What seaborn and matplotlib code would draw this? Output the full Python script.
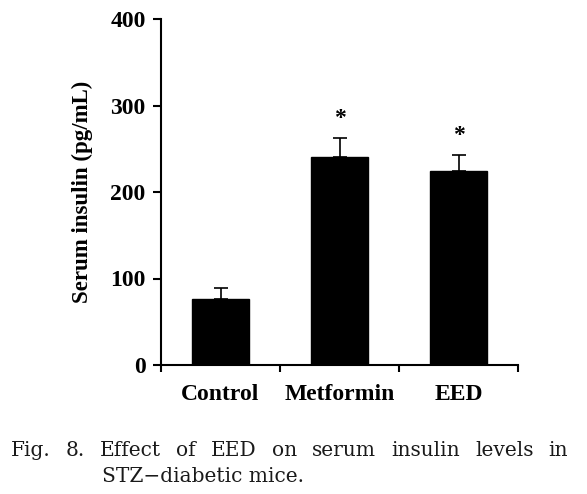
import matplotlib
matplotlib.use("Agg")
import matplotlib.pyplot as plt
import seaborn as sns
import pandas as pd

# ----------------------------------------------------------------------------
# Data
# ----------------------------------------------------------------------------
groups = ["Control", "Metformin", "EED"]
insulin_mean = [76, 240, 224]
insulin_sem = [13, 22, 19]
significant = [False, True, True]
y_ticks = [0, 100, 200, 300, 400]

caption_line1 = ["Fig.", "8.", "Effect", "of", "EED", "on", "serum",
                 "insulin", "levels", "in"]
caption_line2 = "STZ\u2212diabetic mice."

# ----------------------------------------------------------------------------
# Style
# ----------------------------------------------------------------------------
sns.set_style("ticks")
plt.rcParams["font.family"] = ["Liberation Serif", "DejaVu Serif"]
plt.rcParams.update({"text.color": "black", "axes.labelcolor": "black",
                     "xtick.color": "black", "ytick.color": "black"})

W, H = 587, 494
fig = plt.figure(figsize=(W / 100, H / 100), dpi=100)
ax = fig.add_axes([161 / W, 129 / H, 357 / W, 346 / H])

df = pd.DataFrame({"group": groups, "insulin": insulin_mean})
sns.barplot(data=df, x="group", y="insulin", order=groups, color="black",
            edgecolor="black", saturation=1, width=0.48, errorbar=None, ax=ax)

# upward-only SEM bars
ax.errorbar(range(len(groups)), insulin_mean,
            yerr=[[0] * len(groups), insulin_sem], fmt="none",
            ecolor="black", elinewidth=1.2, capsize=5, capthick=1.2)

# significance stars
for i, (m, s, sig) in enumerate(zip(insulin_mean, insulin_sem, significant)):
    if sig:
        ax.annotate("*", xy=(i, m + s), xytext=(0, 10), textcoords="offset points",
                    ha="center", va="baseline", fontsize=17, fontweight="bold")

# axes
ax.set_ylim(0, 400)
ax.set_yticks(y_ticks)
ax.set_xlim(-0.5, len(groups) - 0.5)
ax.set_xticks([-0.5, 0.5, 1.5, 2.5])
ax.set_xticklabels([])
ax.set_xticks(range(len(groups)), labels=groups, minor=True)
ax.tick_params(axis="x", which="minor", length=0, pad=14)
ax.tick_params(axis="x", which="major", length=5, width=1.5)
ax.tick_params(axis="y", length=6, width=1.5, pad=5)
for lab in ax.get_xticklabels(minor=True) + ax.get_yticklabels():
    lab.set_fontsize(17)
    lab.set_fontweight("bold")

ax.set_xlabel("")
ax.set_ylabel("Serum insulin (pg/mL)", fontsize=16.5, fontweight="bold")
ax.yaxis.set_label_coords(-0.19, 0.5)

sns.despine(ax=ax)
for side in ["left", "bottom"]:
    ax.spines[side].set_linewidth(1.5)
    ax.spines[side].set_color("black")

# ----------------------------------------------------------------------------
# Caption (justified first line, hanging indent)
# ----------------------------------------------------------------------------
cap_kw = dict(fontsize=14.5, family="DejaVu Serif", va="baseline", color="#1a1a1a")
fig.canvas.draw()
renderer = fig.canvas.get_renderer()
word_texts = [fig.text(0, 0, w, **cap_kw) for w in caption_line1]
widths = [t.get_window_extent(renderer).width for t in word_texts]
x_left, x_right = 11, 568
gap = (x_right - x_left - sum(widths)) / (len(widths) - 1)
x = x_left
for t, w in zip(word_texts, widths):
    t.set_position((x / W, (H - 456) / H))
    x += w + gap

fig.text(102 / W, (H - 482) / H, caption_line2, **cap_kw)

fig.savefig("out.png", dpi=100)
